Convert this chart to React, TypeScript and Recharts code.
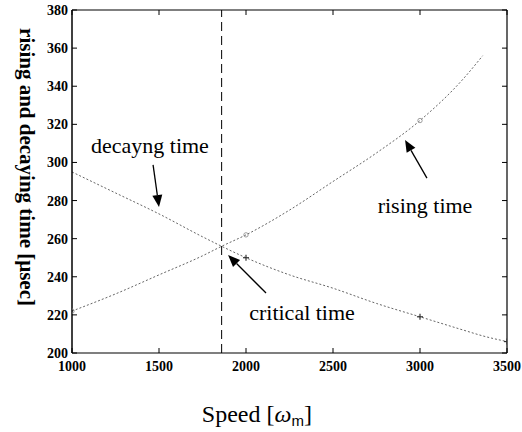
import React from 'react';
import {
  ComposedChart, Line, Scatter, XAxis, YAxis, ReferenceLine, ReferenceDot,
} from 'recharts';

const speeds = [1000, 1250, 1500, 1750, 1860, 2000, 2250, 2500, 2750, 3000, 3250, 3360, 3500];
const risingTime = [222, 231, 241, 251, 256, 262, 275, 290, 305, 322, 344, 356, null];
const decayingTime = [295, 284, 273, 261, 256, 250, 241, 234, 226, 219, 212, 209, 206];

const risingMeasured = [
  { speed: 1000, value: 222 },
  { speed: 2000, value: 262 },
  { speed: 3000, value: 322 },
];
const decayingMeasured = [
  { speed: 2000, value: 250 },
  { speed: 3000, value: 219 },
  { speed: 3500, value: 206 },
];

const xTicks = [1000, 1500, 2000, 2500, 3000, 3500];
const yTicks = [200, 220, 240, 260, 280, 300, 320, 340, 360, 380];
const criticalSpeed = 1860;

const annotations = [
  { text: 'decayng time', x: 1448, y: 309, from: { x: 1466, y: 298.7 }, to: { x: 1500, y: 276.6 } },
  { text: 'rising time', x: 3029, y: 277.5, from: { x: 3040, y: 291.8 }, to: { x: 2914, y: 311.8 } },
  { text: 'critical time', x: 2322, y: 221, from: { x: 2115, y: 231.5 }, to: { x: 1897, y: 251.4 } },
];

const data = speeds.map((s, i) => ({ speed: s, rising: risingTime[i], decaying: decayingTime[i] }));

const serif = '"Liberation Serif", "Times New Roman", serif';

const Arrow = (p: any) => {
  const { x1, y1, x2, y2 } = p;
  if (x1 == null) return <g />;
  const dx = x2 - x1, dy = y2 - y1;
  const len = Math.sqrt(dx * dx + dy * dy) || 1;
  const ux = dx / len, uy = dy / len;
  const hl = 12, hw = 5;
  const bx = x2 - ux * hl, by = y2 - uy * hl;
  const pts = `${x2},${y2} ${bx - uy * hw},${by + ux * hw} ${bx + uy * hw},${by - ux * hw}`;
  return (
    <g>
      <line x1={x1} y1={y1} x2={bx} y2={by} stroke="#000" strokeWidth={1.3} />
      <polygon points={pts} fill="#000" />
    </g>
  );
};

const PlusShape = (p: any) => {
  const { cx, cy } = p;
  return (
    <g stroke="#333" strokeWidth={1.2}>
      <line x1={cx - 3} y1={cy} x2={cx + 3} y2={cy} />
      <line x1={cx} y1={cy - 3} x2={cx} y2={cy + 3} />
    </g>
  );
};

const SmallMark = (p: any) => {
  const { cx, cy } = p;
  return <circle cx={cx} cy={cy} r={2.2} fill="none" stroke="#888" strokeWidth={0.8} />;
};

const XLabel = (p: any) => {
  const vb = p.viewBox || {};
  const x = vb.x + vb.width * 0.425;
  return (
    <text x={x} y={422} textAnchor="middle" fontFamily={serif} fontSize={24} fill="#000">
      Speed [
      <tspan fontStyle="italic">ω</tspan>
      <tspan fontFamily='"Liberation Sans", Arial, sans-serif' fontSize={15} dy={4}>m</tspan>
      <tspan dy={-4}>]</tspan>
    </text>
  );
};

const YLabel = () => (
  <text x={20} y={167} transform="rotate(90, 20, 167)" textAnchor="middle" fontFamily={serif}
    fontSize={21} fill="#000" fontWeight="bold">
    rising and decaying time [μsec]
  </text>
);

const AnnLabel = (text: string) => (p: any) => {
  const vb = p.viewBox || {};
  const cx = vb.x + (vb.width || 0) / 2;
  const cy = vb.y + (vb.height || 0) / 2;
  return (
    <text x={cx} y={cy} textAnchor="middle" dominantBaseline="central" fontFamily={serif}
      fontSize={22} fill="#000">
      {text}
    </text>
  );
};

const noTick = () => <g />;

export default function App() {
  return (
    <div style={{ position: 'absolute', left: 0, top: 0, width: 522, height: 432, background: '#fff' }}>
      <ComposedChart width={522} height={432} data={data}
        margin={{ top: 9, right: 14, left: 0, bottom: 0 }}>
        <XAxis dataKey="speed" type="number" domain={[1000, 3500]} ticks={xTicks}
          allowDataOverflow height={79} tickSize={-5} tickMargin={13}
          axisLine={{ stroke: '#000', strokeWidth: 1.2 }} tickLine={{ stroke: '#000' }}
          tick={{ fontFamily: serif, fontSize: 14, fontWeight: 'bold', fill: '#000' }}
          label={<XLabel />} />
        <XAxis xAxisId="top" orientation="top" dataKey="speed" type="number" domain={[1000, 3500]}
          ticks={xTicks} allowDataOverflow height={1} tickSize={-5} tick={noTick}
          axisLine={{ stroke: '#000', strokeWidth: 1.2 }} tickLine={{ stroke: '#000' }} />
        <YAxis type="number" domain={[200, 380]} ticks={yTicks} allowDataOverflow width={72}
          tickSize={-5} tickMargin={9}
          axisLine={{ stroke: '#000', strokeWidth: 1.5 }} tickLine={{ stroke: '#000' }}
          tick={{ fontFamily: serif, fontSize: 14, fontWeight: 'bold', fill: '#000' }}
          label={<YLabel />} />
        <YAxis yAxisId="right" orientation="right" type="number" domain={[200, 380]} ticks={yTicks}
          allowDataOverflow width={1} tickSize={-5} tick={noTick}
          axisLine={{ stroke: '#000', strokeWidth: 1.2 }} tickLine={{ stroke: '#000' }} />
        <ReferenceLine x={criticalSpeed} stroke="#000" strokeWidth={1} strokeDasharray="9 5" />
        <Line dataKey="decaying" type="monotone" stroke="#666" strokeWidth={1} strokeDasharray="2 2"
          dot={false} isAnimationActive={false} connectNulls />
        <Line dataKey="rising" type="monotone" stroke="#666" strokeWidth={1} strokeDasharray="2 2"
          dot={false} isAnimationActive={false} connectNulls />
        <Scatter data={decayingMeasured} dataKey="value" shape={<PlusShape />} isAnimationActive={false} />
        <Scatter data={risingMeasured} dataKey="value" shape={<SmallMark />} isAnimationActive={false} />
        {annotations.map((a) => (
          <ReferenceLine key={a.text + 'arrow'} segment={[a.from, a.to]} shape={<Arrow />} ifOverflow="visible" />
        ))}
        {annotations.map((a) => (
          <ReferenceDot key={a.text} x={a.x} y={a.y} r={0} stroke="none" fill="none"
            label={AnnLabel(a.text)} ifOverflow="visible" />
        ))}
      </ComposedChart>
    </div>
  );
}
